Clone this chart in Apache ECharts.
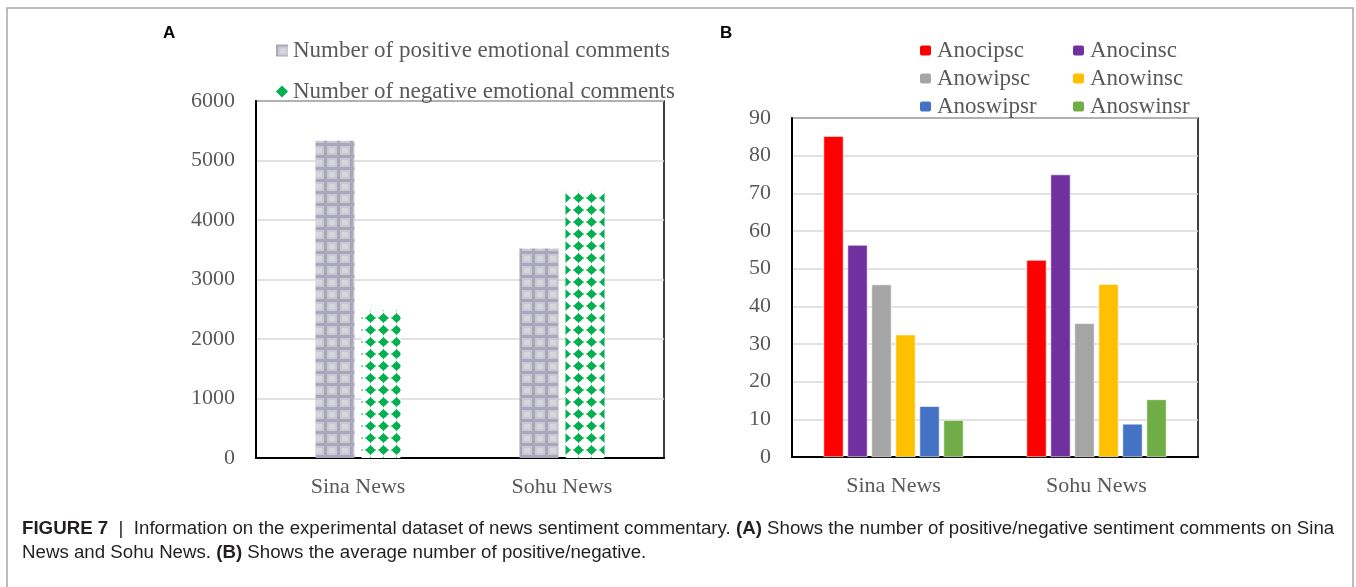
<!DOCTYPE html>
<html lang="en">
<head>
    <meta charset="UTF-8">
    <title>Figure 7</title>
    <style>
        body { margin: 0; background: #fff; }
        #main { width: 1356px; height: 587px; }
    </style>
    <script src="https://cdn.jsdelivr.net/npm/echarts@6/dist/echarts.min.js"></script>
</head>
<body>
    <div id="main"></div>
    <script>
        // panel A data
        var categories = ['Sina News', 'Sohu News'];
        var positiveComments = [5330, 3520];
        var negativeComments = [2480, 4490];
        var ticksA = { min: 0, max: 6000, interval: 1000 };

        // panel B data
        var seriesNamesB = ['Anocipsc', 'Anocinsc', 'Anowipsc', 'Anowinsc', 'Anoswipsr', 'Anoswinsr'];
        var colorsB = ['#ff0000', '#7030a0', '#a5a5a5', '#ffc000', '#4472c4', '#70ad47'];
        var sinaAvg = [85.2, 56.3, 45.8, 32.5, 13.5, 9.8];
        var sohuAvg = [52.3, 75.0, 35.5, 45.9, 8.8, 15.3];
        var ticksB = { min: 0, max: 90, interval: 10 };

        var serif = 'Liberation Serif';
        var grayText = '#595959';

        // textured fills like the excel picture fills
        function gridPattern() {
            var c = document.createElement('canvas');
            c.width = 13; c.height = 12;
            var g = c.getContext('2d');
            g.fillStyle = '#a9a7b9';
            g.fillRect(0, 0, 13, 12);
            g.fillStyle = '#c9c8d4';
            g.fillRect(2, 2, 10, 9);
            g.fillStyle = '#d5d8da';
            g.fillRect(4, 4, 6, 5);
            return c;
        }
        function diamondPattern() {
            var c = document.createElement('canvas');
            c.width = 13; c.height = 12;
            var g = c.getContext('2d');
            g.fillStyle = '#ffffff';
            g.fillRect(0, 0, 13, 12);
            g.fillStyle = '#00b050';
            g.beginPath();
            g.moveTo(6.5, 0.5);
            g.quadraticCurveTo(8, 4.5, 12.5, 6);
            g.quadraticCurveTo(8, 7.5, 6.5, 11.5);
            g.quadraticCurveTo(5, 7.5, 0.5, 6);
            g.quadraticCurveTo(5, 4.5, 6.5, 0.5);
            g.fill();
            g.beginPath();
            g.arc(6.5, 6, 3.6, 0, Math.PI * 2);
            g.fill();
            return c;
        }

        var myChart = echarts.init(document.getElementById('main'));

        var axisLabel = { color: grayText, fontFamily: serif, fontSize: 22 };
        var legendText = { color: grayText, fontFamily: serif, fontSize: 23, lineHeight: 22 };

        var seriesB = seriesNamesB.map(function (name, i) {
            return {
                name: name,
                type: 'bar',
                xAxisIndex: 1,
                yAxisIndex: 1,
                barWidth: 20,
                barGap: '20%',
                itemStyle: { color: colorsB[i], borderColor: '#ffffff', borderWidth: 0.6 },
                data: [sinaAvg[i], sohuAvg[i]]
            };
        });

        var option = {
            animation: false,
            backgroundColor: '#ffffff',
            title: [{
                left: 17,
                top: 512,
                text: '{b|FIGURE 7}  |  Information on the experimental dataset of news sentiment commentary. {b|(A)} Shows the number of positive/negative sentiment comments on Sina\nNews and Sohu News. {b|(B)} Shows the average number of positive/negative.',
                textStyle: {
                    fontFamily: 'Liberation Sans',
                    fontSize: 18.7,
                    fontWeight: 'normal',
                    color: '#231f20',
                    lineHeight: 24,
                    rich: {
                        b: { fontFamily: 'Liberation Sans', fontSize: 18.7, fontWeight: 'bold', color: '#231f20', lineHeight: 24 }
                    }
                }
            }],
            graphic: [
                { type: 'rect', shape: { x: 7, y: 8, width: 1346, height: 600 }, style: { fill: null, stroke: '#a6a6a6', lineWidth: 1.5 }, silent: true },
                { type: 'text', left: 163, top: 25, style: { text: 'A', font: 'bold 17px "Liberation Sans"', fill: '#000' } },
                { type: 'text', left: 720, top: 25, style: { text: 'B', font: 'bold 17px "Liberation Sans"', fill: '#000' } }
            ],
            legend: [{
                orient: 'vertical',
                left: 271,
                top: 34,
                itemWidth: 12,
                itemHeight: 12,
                itemGap: 18,
                textStyle: legendText,
                data: [
                    { name: 'Number of positive emotional comments', icon: 'rect' },
                    { name: 'Number of negative emotional comments', icon: 'diamond', itemStyle: { color: '#00b050' } }
                ]
            }, {
                orient: 'vertical',
                left: 913,
                top: 34,
                itemWidth: 13,
                itemHeight: 12,
                itemGap: 5,
                textStyle: legendText,
                data: [seriesNamesB[0], seriesNamesB[2], seriesNamesB[4]]
            }, {
                orient: 'vertical',
                left: 1066,
                top: 34,
                itemWidth: 13,
                itemHeight: 12,
                itemGap: 5,
                textStyle: legendText,
                data: [seriesNamesB[1], seriesNamesB[3], seriesNamesB[5]]
            }],
            grid: [
                { left: 256, top: 101, width: 408, height: 357, show: true, borderColor: '#000', borderWidth: 1.5, backgroundColor: 'transparent' },
                { left: 792, top: 118, width: 406, height: 339, show: true, borderColor: '#000', borderWidth: 1.5, backgroundColor: 'transparent' }
            ],
            xAxis: [
                {
                    type: 'category', gridIndex: 0, data: categories,
                    axisLine: { lineStyle: { color: '#000', width: 2 } },
                    axisTick: { show: false },
                    axisLabel: Object.assign({ margin: 18 }, axisLabel)
                },
                {
                    type: 'category', gridIndex: 1, data: categories,
                    axisLine: { lineStyle: { color: '#000', width: 2 } },
                    axisTick: { show: false },
                    axisLabel: Object.assign({ margin: 18 }, axisLabel)
                }
            ],
            yAxis: [
                {
                    type: 'value', gridIndex: 0, min: ticksA.min, max: ticksA.max, interval: ticksA.interval,
                    axisLine: { show: true, lineStyle: { color: '#000', width: 2 } },
                    axisTick: { show: false },
                    splitLine: { lineStyle: { color: '#d9d9d9', width: 1.5 } },
                    axisLabel: Object.assign({ margin: 21, formatter: function (v) { return String(v); } }, axisLabel)
                },
                {
                    type: 'value', gridIndex: 1, min: ticksB.min, max: ticksB.max, interval: ticksB.interval,
                    axisLine: { show: true, lineStyle: { color: '#000', width: 2 } },
                    axisTick: { show: false },
                    splitLine: { lineStyle: { color: '#d9d9d9', width: 1.5 } },
                    axisLabel: Object.assign({ margin: 21 }, axisLabel)
                }
            ],
            series: [{
                name: 'Number of positive emotional comments',
                type: 'bar',
                xAxisIndex: 0,
                yAxisIndex: 0,
                barWidth: 39,
                barGap: '18%',
                itemStyle: { color: { image: gridPattern(), repeat: 'repeat' } },
                data: positiveComments
            }, {
                name: 'Number of negative emotional comments',
                type: 'bar',
                xAxisIndex: 0,
                yAxisIndex: 0,
                barWidth: 39,
                itemStyle: { color: { image: diamondPattern(), repeat: 'repeat' } },
                data: negativeComments
            }].concat(seriesB)
        };

        myChart.setOption(option);
    </script>
</body>
</html>
